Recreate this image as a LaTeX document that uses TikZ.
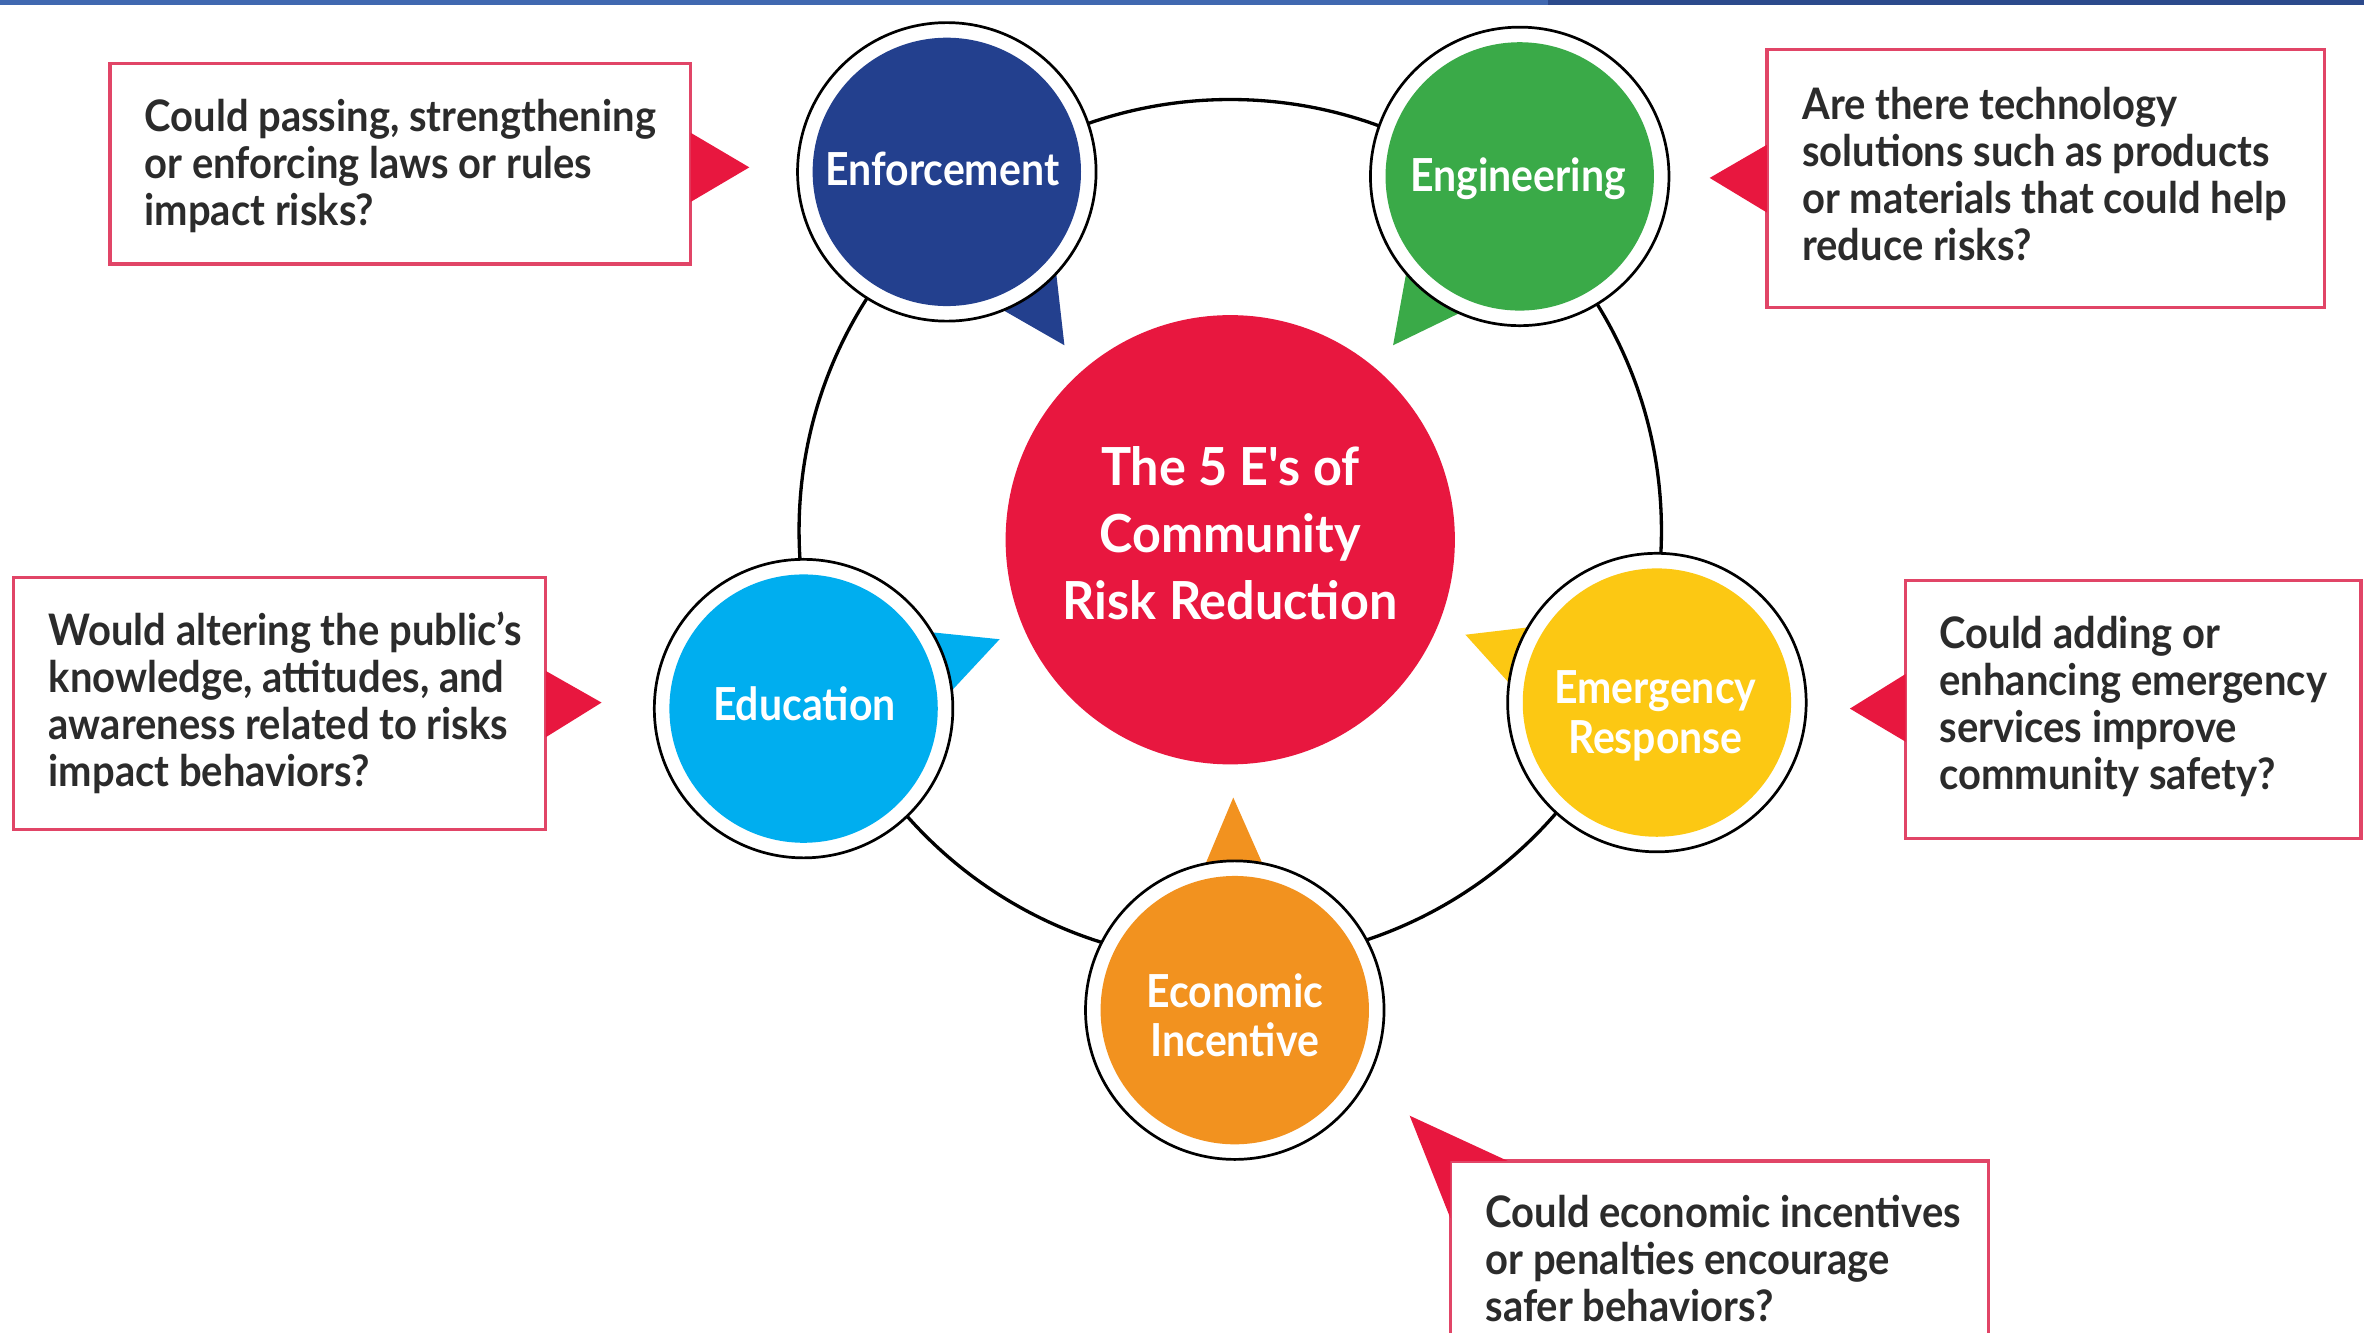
\documentclass[tikz,border=0pt]{standalone}
\usepackage{fontspec}
\setmainfont{Lato}[FakeStretch=0.92]
\newfontfamily\centerfont{Lato}[FakeStretch=0.96]
\newfontfamily\labelfont{Lato}[FakeStretch=0.9]
\definecolor{enfcol}{HTML}{23408E}
\definecolor{engcol}{HTML}{3AAA48}
\definecolor{educol}{HTML}{00AEEF}
\definecolor{emrcol}{HTML}{FCC813}
\definecolor{ecocol}{HTML}{F2921F}
\definecolor{midred}{HTML}{E8173F}
\definecolor{boxline}{HTML}{E14567}
\definecolor{txtcol}{HTML}{2B2B2B}
\definecolor{stripA}{HTML}{4068B0}
\definecolor{stripB}{HTML}{2C4A8C}
\tikzset{
  ring/.style={circle, draw=black, fill=white, line width=0.9pt, minimum size=99pt, inner sep=0pt},
  disc/.style={circle, minimum size=89pt, inner sep=0pt},
  qbox/.style={rectangle, draw=boxline, line width=1.1pt, fill=white, inner sep=0pt},
  qtext/.style={anchor=base west, inner sep=0pt, text=txtcol, font=\fontsize{14.4}{15.6}\selectfont\bfseries},
  elabel/.style={anchor=base, inner sep=0pt, text=white, font=\labelfont\fontsize{15.1}{16.5}\selectfont\bfseries},
  pointer/.style={fill=midred}
}
\begin{document}
\begin{tikzpicture}[x=0.5pt,y=-0.5pt]
\useasboundingbox (0,0) rectangle (1568,884);
\clip (0,0) rectangle (1568,884);
\fill[white] (0,0) rectangle (1568,884);
\fill[stripA] (0,0) rectangle (1027,3.2);
\fill[stripB] (1027,0) rectangle (1568,3.2);

% big connecting circle
\draw[line width=1.1pt, black] (816,352) circle[radius=286];

% centre
\node[circle, fill=midred, minimum size=149pt, inner sep=0pt] (core) at (816,358) {};
\node[anchor=base, inner sep=0pt, text=white, font=\centerfont\fontsize{17.4}{22.3}\selectfont\bfseries] (coretext) at (816,322)
  {\begin{tabular}[t]{@{}c@{}}The 5 E's of\\Community\\Risk Reduction\end{tabular}};

% tails (under the rings, pointing to the centre)
\fill[enfcol] (638,190) -- (706,229) -- (697,150) -- cycle;
\fill[engcol] (938,152) -- (924,229) -- (988,198) -- cycle;
\fill[educol] (585,416) -- (663,424) -- (609,482) -- cycle;
\fill[emrcol] (1040,413) -- (972,421) -- (1028,483) -- cycle;
\fill[ecocol] (782,615) -- (818,529) -- (856,615) -- cycle;

% rings
\node[ring] (enfring) at (628,114) {};
\node[ring] (engring) at (1008,117) {};
\node[ring] (eduring) at (533,470) {};
\node[ring] (emrring) at (1099,466) {};
\node[ring] (ecoring) at (819,670) {};

% discs
\node[disc, fill=enfcol] (enf) at (628,114) {};
\node[disc, fill=engcol] (eng) at (1008,117) {};
\node[disc, fill=educol] (edu) at (533,470) {};
\node[disc, fill=emrcol] (emr) at (1099,466) {};
\node[disc, fill=ecocol] (eco) at (819,670) {};

% labels
\node[elabel] (enflabel) at (625,123) {Enforcement};
\node[elabel] (englabel) at (1007,127) {Engineering};
\node[elabel] (edulabel) at (533.5,478) {Education};
\node[elabel] (emrlabel) at (1098,466.5) {\begin{tabular}[t]{@{}c@{}}Emergency\\Response\end{tabular}};
\node[elabel] (ecolabel) at (819,668) {\begin{tabular}[t]{@{}c@{}}Economic\\Incentive\end{tabular}};

% question boxes
\node[qbox, minimum width=192.5pt, minimum height=66.5pt] (b1) at (265.5,108.5) {};
\node[qbox, minimum width=185pt, minimum height=85.5pt] (b2) at (1357,118.5) {};
\node[qbox, minimum width=176.5pt, minimum height=83.5pt] (b3) at (185.5,466.5) {};
\node[qbox, minimum width=151pt, minimum height=85.5pt] (b4) at (1415,470.5) {};
\node[qbox, minimum width=178.5pt, minimum height=80pt] (b5) at (1140.5,850) {};

% pointers
\fill[pointer] (458,88) -- (497,111) -- (458,134) -- cycle;
\fill[pointer] (1172,96) -- (1134,118) -- (1172,141) -- cycle;
\fill[pointer] (362,445) -- (399,466) -- (362,489) -- cycle;
\fill[pointer] (1264,447) -- (1227,470) -- (1264,492) -- cycle;
\fill[pointer] (935,740) -- (1000,770) -- (962,770) -- (962,808) -- cycle;
\draw[boxline, line width=1.1pt] (1000,770) -- (1319,770);

% texts
\node[qtext] (t1) at (95.5,87.3) {\begin{tabular}[t]{@{}l@{}}Could passing, strengthening\\or enforcing laws or rules\\impact risks?\end{tabular}};
\node[qtext] (t2) at (1195,79) {\begin{tabular}[t]{@{}l@{}}Are there technology\\solutions such as products\\or materials that could help\\reduce risks?\end{tabular}};
\node[qtext] (t3) at (32,428) {\begin{tabular}[t]{@{}l@{}}Would altering the public's\\knowledge, attitudes, and\\awareness related to risks\\impact behaviors?\end{tabular}};
\node[qtext] (t4) at (1286,430) {\begin{tabular}[t]{@{}l@{}}Could adding or\\enhancing emergency\\services improve\\community safety?\end{tabular}};
\node[qtext] (t5) at (985,814) {\begin{tabular}[t]{@{}l@{}}Could economic incentives\\or penalties encourage\\safer behaviors?\end{tabular}};
\end{tikzpicture}
\end{document}
